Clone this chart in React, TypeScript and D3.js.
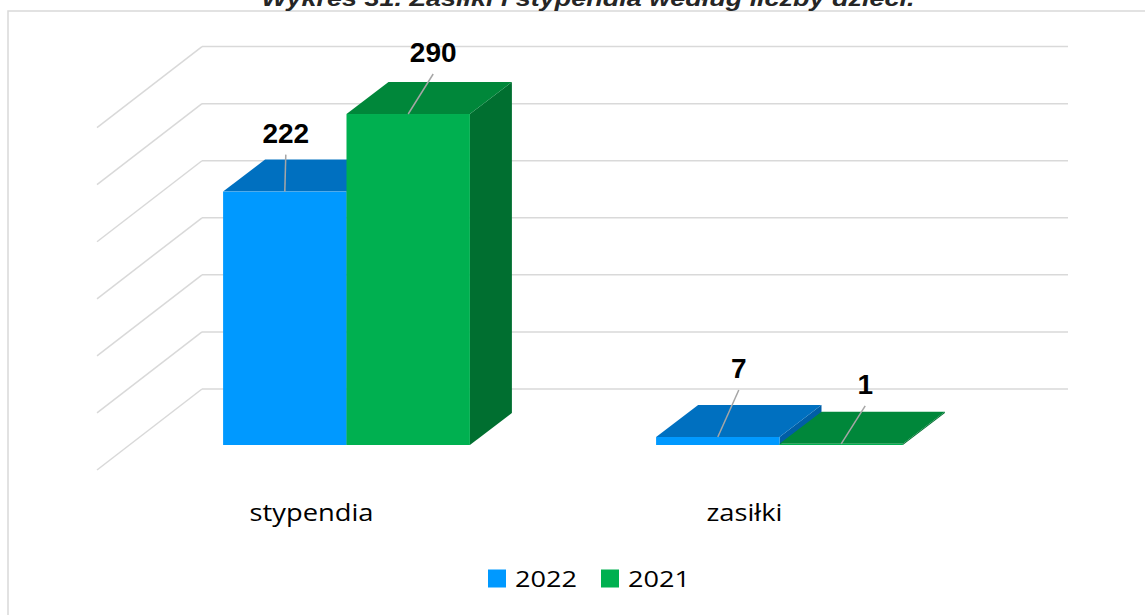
import React from "react";
import * as d3 from "d3";

// ---- data ----
const categories = ["stypendia", "zasiłki"];
const seriesNames = ["2022", "2021"];
const values2022 = [222, 7];
const values2021 = [290, 1];
const yTicks = [0, 50, 100, 150, 200, 250, 300];
const titleText = "Wykres 31. Zasiłki i stypendia według liczby dzieci.";

// ---- style / layout ----
const W = 1145;
const H = 615;
const seriesColors = [
  { front: "#0099FF", top: "#0070C0", side: "#005EA6" },
  { front: "#00B050", top: "#00873A", side: "#006F30" },
];
const DEPTH = { dx: 42, dy: -32 }; // bar depth
const BACK = { dx: 72, dy: -56 }; // back wall relative to bar fronts
const SIDE = { dx: -33, dy: 25 }; // front edge of side wall relative to bar fronts
// label nudges relative to bar front top centre (per category, per series)
const labelNudge = [
  [[1, -49], [25, -52]],
  [[21, -59], [24, -50]],
];
const catLabelWidths = [124, 76];

export default function App() {
  const y = d3.scaleLinear().domain([0, 300]).range([445, 445 - 342.4]);
  const x0 = d3.scaleBand<string>().domain(categories).range([130, 996]).padding(0);
  const groupW = x0.bandwidth() * 0.57;
  const x1 = d3.scaleBand<string>().domain(seriesNames).range([0, groupW]);
  const [xl, xr] = x0.range();
  const series = [values2022, values2021];

  const pts = (arr: [number, number][]) => arr.map((p) => p.join(",")).join(" ");

  return (
    <svg
      width={W}
      height={H}
      style={{ position: "absolute", left: 0, top: 0, background: "#fff" }}
      fontFamily="'Open Sans', sans-serif"
    >
      <rect x={0} y={0} width={W} height={H} fill="#fff" />
      {/* chart frame */}
      <rect x={8} y={11} width={W + 20} height={H + 20} fill="none" stroke="#D9D9D9" strokeWidth={1.5} />
      {/* title */}
      <text
        x={588}
        y={6}
        textAnchor="middle"
        fontFamily="'Liberation Sans', sans-serif"
        fontStyle="italic"
        fontWeight="bold"
        fontSize={22}
        fill="#262626"
        textLength={653}
        lengthAdjust="spacingAndGlyphs"
      >
        {titleText}
      </text>

      {/* grid: back wall + side wall */}
      {yTicks.map((t) => {
        const yb = y(t) + BACK.dy;
        return (
          <g key={t} stroke="#D9D9D9" strokeWidth={1.5} fill="none">
            <line x1={xl + BACK.dx} y1={yb} x2={xr + BACK.dx} y2={yb} />
            <line x1={xl + BACK.dx} y1={yb} x2={xl + SIDE.dx} y2={y(t) + SIDE.dy} />
          </g>
        );
      })}

      {/* bars */}
      {categories.map((cat, ci) => {
        const gx = (x0(cat) as number) + (x0.bandwidth() - groupW) / 2;
        return (
          <g key={cat}>
            {seriesNames.map((s, si) => {
              const v = series[si][ci];
              const x = gx + (x1(s) as number);
              const w = x1.bandwidth();
              const yt = y(v);
              const yb = y(0);
              const c = seriesColors[si];
              return (
                <g key={s}>
                  <polygon
                    points={pts([
                      [x + w, yt],
                      [x + w + DEPTH.dx, yt + DEPTH.dy],
                      [x + w + DEPTH.dx, yb + DEPTH.dy],
                      [x + w, yb],
                    ])}
                    fill={c.side}
                  />
                  <polygon
                    points={pts([
                      [x, yt],
                      [x + DEPTH.dx, yt + DEPTH.dy],
                      [x + w + DEPTH.dx, yt + DEPTH.dy],
                      [x + w, yt],
                    ])}
                    fill={c.top}
                  />
                  <rect x={x} y={yt} width={w} height={yb - yt} fill={c.front} />
                </g>
              );
            })}
          </g>
        );
      })}

      {/* value labels with leader lines */}
      {categories.map((cat, ci) => {
        const gx = (x0(cat) as number) + (x0.bandwidth() - groupW) / 2;
        return seriesNames.map((s, si) => {
          const v = series[si][ci];
          const cx = gx + (x1(s) as number) + x1.bandwidth() / 2;
          const yt = y(v);
          const [ndx, ndy] = labelNudge[ci][si];
          const lx = cx + ndx;
          const ly = yt + ndy;
          return (
            <g key={cat + s}>
              <line x1={lx} y1={ly + 12} x2={cx} y2={yt} stroke="#A6A6A6" strokeWidth={1.5} />
              <text
                x={lx}
                y={ly}
                textAnchor="middle"
                fontFamily="'Liberation Sans', Arial, sans-serif"
                fontWeight="bold"
                fontSize={28}
                fill="#000"
              >
                {v}
              </text>
            </g>
          );
        });
      })}

      {/* category labels */}
      {categories.map((cat, ci) => {
        const cx = (x0(cat) as number) + x0.bandwidth() / 2 - 35;
        return (
          <text
            key={cat}
            x={cx}
            y={521}
            textAnchor="middle"
            fontSize={23}
            fill="#000"
            textLength={catLabelWidths[ci]}
            lengthAdjust="spacingAndGlyphs"
          >
            {cat}
          </text>
        );
      })}

      {/* legend */}
      {seriesNames.map((s, si) => {
        const lx = 488 + si * 113;
        return (
          <g key={s}>
            <rect x={lx} y={569.5} width={18} height={18} fill={seriesColors[si].front} />
            <text
              x={lx + 27}
              y={587}
              fontSize={22}
              fill="#000"
              textLength={62}
              lengthAdjust="spacingAndGlyphs"
            >
              {s}
            </text>
          </g>
        );
      })}
    </svg>
  );
}
